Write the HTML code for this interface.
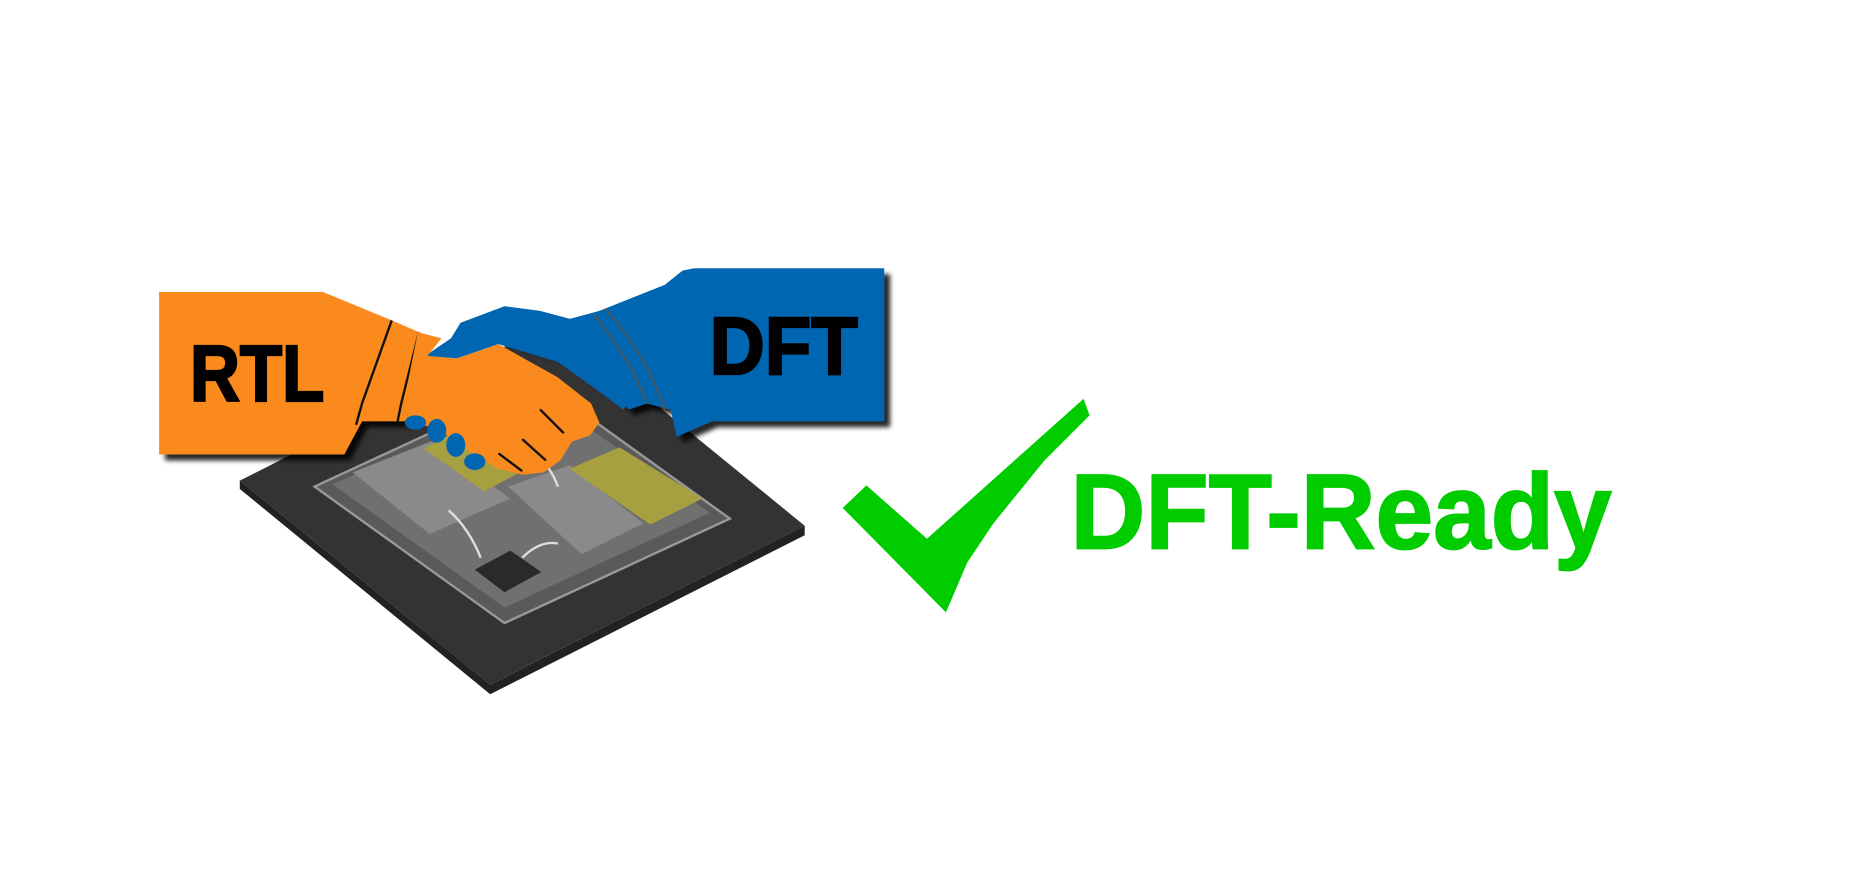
<!DOCTYPE html>
<html><head><meta charset="utf-8"><style>
html,body{margin:0;padding:0;background:#fff;}
svg{display:block;}
</style></head><body>
<svg width="1861" height="880" viewBox="0 0 1568 741.5" xmlns="http://www.w3.org/2000/svg">
<defs>
<filter id="sh" x="-10%" y="-10%" width="130%" height="130%"><feDropShadow dx="5" dy="5" stdDeviation="2" flood-color="#000" flood-opacity="0.85"/></filter>
</defs>
<!-- chip board -->
<polygon points="202,405 413,577 678,443 467,271" fill="#333"/>
<polygon points="202,405 202,412 413,585 678,451 678,443 413,577" fill="#222"/>
<!-- package -->
<polygon points="265,410 425,525 615,437 455,322" fill="#5a5a5a" stroke="#999" stroke-width="2"/>
<polygon points="280,408 425,512 598,432 455,332" fill="#707070"/>
<!-- blocks -->
<polygon points="297,398 362,450 430,420 363,372" fill="#8a8a8a"/>
<polygon points="428,410 490,467 542,441 480,392" fill="#8a8a8a"/>
<polygon points="480,395 548,442 592,420 522,377" fill="#a7a040"/>
<polygon points="357,378 408,414 440,397 387,362" fill="#a7a040"/>
<polygon points="400,480 425,499 456,482 430,464" fill="#2a2a2a"/>
<path d="M378,430 Q395,445 405,470 M440,470 Q455,455 470,458 M450,380 Q465,395 470,410" stroke="#ddd" stroke-width="2" fill="none"/>
<!-- blue arm -->
<g filter="url(#sh)">
<path d="M505,262 L560,240 L575,228 L585,226 L745,226 L745,355 L600,355 L570,368 L565,345 L545,340 L530,345 L505,320 L470,300 L420,285 Z" fill="#0066b2"/>
</g>
<path d="M358,300 L380,285 L388,272 L425,258 L455,262 L485,270 L505,262 L520,280 L540,330 L525,345 L505,330 L470,305 L420,290 L385,302 Z" fill="#0066b2"/>
<path d="M500,265 Q530,300 545,340 M510,260 Q545,300 560,345" stroke="#555" stroke-width="1.5" fill="none"/>
<!-- orange arm -->
<g filter="url(#sh)">
<path d="M134,246 L272,246 L330,270 L353,280 L340,340 L345,355 L305,355 L290,383 L134,383 Z" fill="#fb8a1e"/>
</g>
<path d="M330,270 L305,340 L300,358 M353,280 L338,340 L335,355" stroke="#111" stroke-width="2" fill="none"/>
<path d="M352,280 L372,285 L360,300 L385,302 L420,290 L470,318 L498,340 L505,356 L497,367 L482,372 L472,388 L458,398 L440,400 L420,395 L395,380 L370,362 L345,355 L340,340 Z" fill="#fb8a1e"/>
<path d="M455,345 L475,365 M440,370 L460,388 M420,382 L440,397" stroke="#111" stroke-width="2" fill="none"/>
<!-- blue fingers -->
<ellipse cx="350" cy="356" rx="9" ry="6" fill="#0066b2"/>
<ellipse cx="368" cy="363" rx="8" ry="10" fill="#0066b2"/>
<ellipse cx="384" cy="375" rx="8" ry="10" fill="#0066b2"/>
<ellipse cx="400" cy="389" rx="9" ry="7" fill="#0066b2"/>
<!-- labels -->
<text x="160" y="338" font-family="Liberation Sans, sans-serif" font-weight="bold" font-size="67" fill="#000" stroke="#000" stroke-width="2" transform="translate(160 0) scale(0.87 1) translate(-160 0)">RTL</text>
<text x="598" y="315" font-family="Liberation Sans, sans-serif" font-weight="bold" font-size="69" fill="#000" stroke="#000" stroke-width="2" transform="translate(598 0) scale(0.93 1) translate(-598 0)">DFT</text>
<!-- check -->
<polygon points="710,428 730,409 781,454 913,336 918,350 880,388 837,441 815,474 797,516" fill="#00cc00"/>
<text x="902" y="462" font-family="Liberation Sans, sans-serif" font-weight="bold" font-size="90" fill="#00cc00" stroke="#00cc00" stroke-width="1.5" transform="translate(902 0) scale(0.97 1) translate(-902 0)">DFT-Ready</text>
</svg>
</body></html>
